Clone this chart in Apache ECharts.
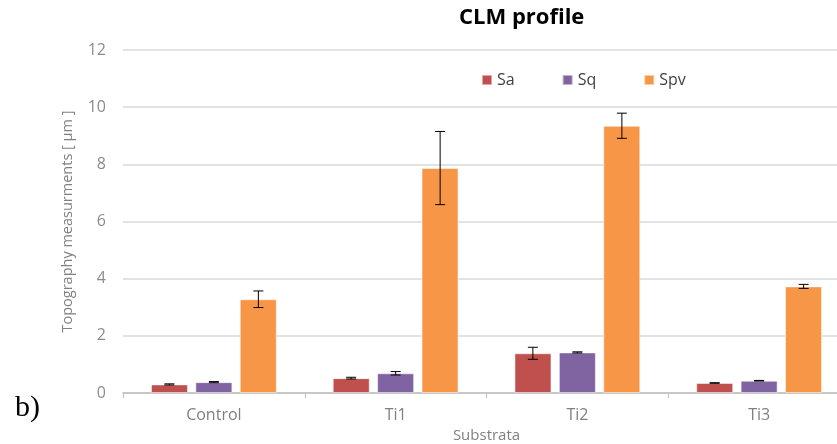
<!DOCTYPE html>
<html>
<head>
<meta charset="utf-8">
<script src="https://cdn.jsdelivr.net/npm/echarts@6/dist/echarts.min.js"></script>
<style>
  html, body { margin: 0; padding: 0; background: #fff; }
  #chart { width: 837px; height: 444px; }
</style>
</head>
<body>
<div id="chart"></div>
<script>
// data
const categories = ['Control', 'Ti1', 'Ti2', 'Ti3']
const saValues = [0.30, 0.52, 1.39, 0.35]
const saErrors = [0.02, 0.03, 0.21, 0.01]
const sqValues = [0.38, 0.69, 1.42, 0.43]
const sqErrors = [0.02, 0.06, 0.02, 0.01]
const spvValues = [3.28, 7.87, 9.35, 3.73]
const spvErrors = [0.29, 1.28, 0.44, 0.07]
const yTicks = [0, 2, 4, 6, 8, 10, 12]

const chartDom = document.getElementById('chart')
const myChart = echarts.init(chartDom)

const barW = 37
const step = 44.5 // distance between bar centres

function errorSeries(name, values, errors, offset) {
  return {
    name: name + ' err',
    type: 'custom',
    z: 10,
    silent: true,
    data: values.map((v, i) => [i, v, errors[i]]),
    renderItem(params, api) {
      const i = api.value(0)
      const v = api.value(1)
      const e = api.value(2)
      const hi = api.coord([i, v + e])
      const lo = api.coord([i, v - e])
      const cx = hi[0] + offset
      const style = { stroke: '#000', lineWidth: 1 }
      return {
        type: 'group',
        children: [
          { type: 'line', shape: { x1: cx, y1: hi[1], x2: cx, y2: lo[1] }, style },
          { type: 'line', shape: { x1: cx - 5, y1: hi[1], x2: cx + 5, y2: hi[1] }, style },
          { type: 'line', shape: { x1: cx - 5, y1: lo[1], x2: cx + 5, y2: lo[1] }, style }
        ]
      }
    }
  }
}

function barSeries(name, values, color) {
  return {
    name: name,
    type: 'bar',
    barWidth: barW,
    barGap: '20%',
    itemStyle: { color: color, borderColor: 'rgba(255,255,255,0.5)', borderWidth: 1 },
    data: values
  }
}

const option = {
  animation: false,
  color: ['#c0504d', '#8064a2', '#f79646'],
  textStyle: { fontFamily: 'Open Sans' },
  // plot area runs a bit past the right edge, as in the original
  grid: { left: 123, right: -13, top: 50, bottom: 51, outerBoundsMode: 'none' },
  legend: {
    data: ['Sa', 'Sq', 'Spv'],
    left: 476,
    top: 67,
    icon: 'rect',
    itemWidth: 10,
    itemHeight: 10,
    itemGap: 47,
    textStyle: { fontSize: 16, color: '#404040', fontFamily: 'Open Sans' }
  },
  xAxis: {
    type: 'category',
    data: categories,
    name: 'Substrata',
    nameLocation: 'middle',
    nameGap: 35,
    nameTextStyle: { fontSize: 15, color: '#808080' },
    axisLine: { lineStyle: { color: '#bfbfbf', width: 1.5 } },
    axisTick: { show: true, length: 5, lineStyle: { color: '#bfbfbf' } },
    axisLabel: { fontSize: 16, color: '#808080', margin: 14 }
  },
  yAxis: {
    type: 'value',
    min: yTicks[0],
    max: yTicks[yTicks.length - 1],
    interval: 2,
    name: 'Topography measurments [ μm ]',
    nameLocation: 'middle',
    nameGap: 48,
    nameTextStyle: { fontSize: 14.5, color: '#808080' },
    axisLine: { show: false },
    axisTick: { show: false },
    axisLabel: { fontSize: 16, color: '#8c8c8c', margin: 17 },
    splitLine: { lineStyle: { color: '#d9d9d9', width: 1.5 } }
  },
  graphic: [
    {
      type: 'text',
      left: 459,
      top: 7,
      z: 5,
      style: { text: 'CLM profile', font: 'bold 22px "Open Sans"', fill: '#000' }
    },
    {
      type: 'rect',
      left: 440,
      top: 29,
      z: 6,
      shape: { width: 170, height: 14 },
      style: { fill: '#fff' }
    },
    {
      type: 'text',
      left: 15,
      top: 393,
      style: { text: 'b)', font: '30px "Liberation Serif"', fill: '#000' }
    }
  ],
  series: [
    barSeries('Sa', saValues, '#c0504d'),
    barSeries('Sq', sqValues, '#8064a2'),
    barSeries('Spv', spvValues, '#f79646'),
    errorSeries('Sa', saValues, saErrors, -step),
    errorSeries('Sq', sqValues, sqErrors, 0),
    errorSeries('Spv', spvValues, spvErrors, step)
  ]
}

option && myChart.setOption(option)
</script>
</body>
</html>
